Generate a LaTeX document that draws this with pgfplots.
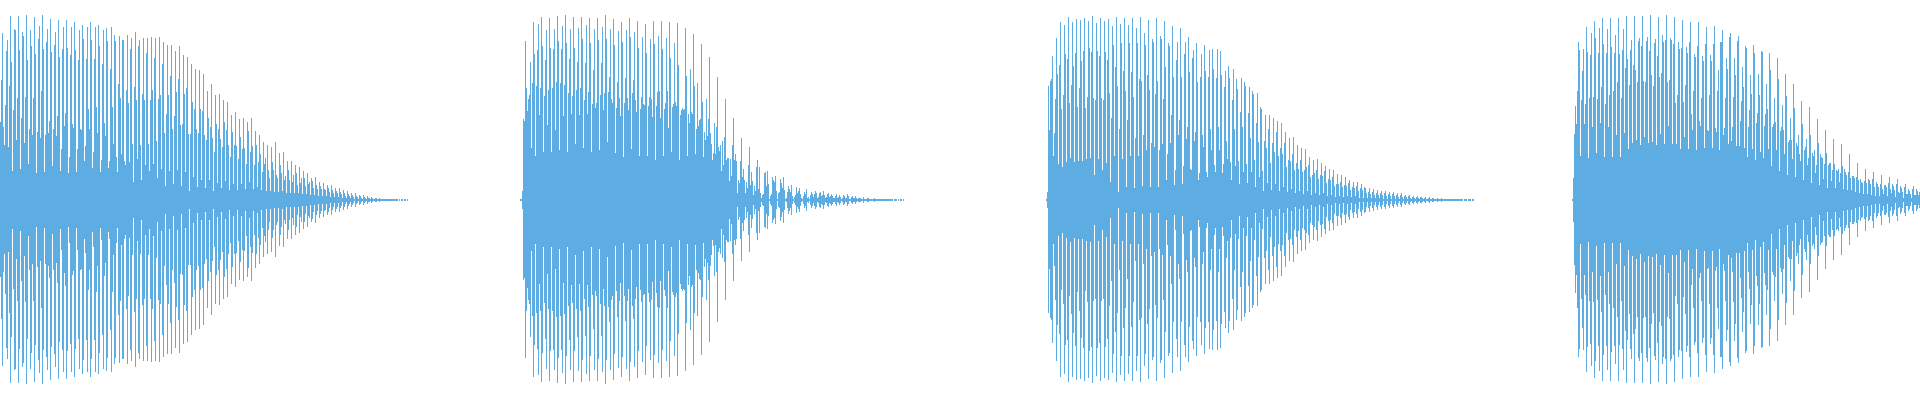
\documentclass[border=0pt]{standalone}
\usepackage{pgfplots}
\usepackage{pgfplotstable}
\pgfplotsset{compat=1.18}
\definecolor{wave}{HTML}{5DADE2}
\pgfplotstableread{
x a b c d e f g h
0 77 119 166 72 54 94 148 159
8 52 113 183 137 29 89 170 169
16 59 101 183 149 31 81 167 163
24 56 102 184 139 36 70 169 153
32 64 101 182 145 27 67 160 173
40 61 108 184 150 28 64 157 170
48 66 78 180 147 34 70 154 167
56 63 83 179 142 29 50 150 172
64 73 86 179 151 27 43 144 172
72 75 71 177 149 28 50 139 169
80 70 69 174 160 39 53 140 172
88 90 70 177 159 32 47 140 172
96 92 66 174 153 28 40 135 169
104 76 63 171 158 32 39 130 172
112 92 55 164 158 43 28 115 163
120 101 45 159 159 39 35 109 164
128 96 38 150 161 55 18 112 167
136 99 41 153 159 54 20 105 161
144 99 35 146 161 55 29 99 162
152 109 36 141 161 58 22 100 162
160 104 31 135 157 66 14 85 154
168 104 29 123 154 70 16 83 148
176 107 30 120 153 74 14 75 144
184 105 28 111 142 65 9 65 135
192 97 23 90 130 70 13 66 129
200 90 20 88 125 64 12 59 108
208 81 20 72 115 61 9 47 104
216 75 17 70 105 60 12 52 99
224 77 19 69 97 54 10 43 84
232 67 16 54 87 53 10 41 80
240 62 16 50 81 51 11 36 77
248 68 18 47 81 53 11 35 68
256 54 13 38 64 45 10 28 57
264 36 42 9 54 30 22 9 52
272 38 30 8 57 25 22 8 46
280 35 27 9 47 20 24 7 39
288 30 20 7 39 18 25 7 35
296 27 15 7 33 17 22 6 29
304 22 14 6 27 16 18 5 22
312 19 12 5 23 15 11 4 18
320 14 11 4 17 11 10 4 15
328 12 8 3 15 10 7 3 12
336 9 7 3 12 8 6 2 10
344 7 4 2 9 6 4 2 7
352 5 3 1 7 4 3 1 5
360 4 2 1 5 3 2 1 4
368 2 2 1 3 2 1 1 2
376 2 1 1 2 1 1 1 1
384 1 0.7 0.7 1 0.7 0.7 0.5 0.5
392 0.5 0.5 0.5 0.5 0.5 0.5 0 0.5
400 0 0.5 0.5 0 0.5 0.5 0 0.5
520 0.5 0.5 9 80 78 158 111 88
528 100 104 137 51 116 177 145 44
536 113 149 175 84 111 182 153 47
544 103 139 169 74 109 181 151 47
552 111 150 170 69 117 183 158 49
560 116 150 173 83 114 184 156 47
568 106 140 170 85 103 182 151 55
576 109 137 171 84 111 182 160 51
584 99 136 174 85 107 181 156 47
592 95 129 170 91 96 181 159 49
600 104 136 172 89 106 184 160 57
608 107 122 170 100 96 180 154 46
616 91 117 168 101 83 177 157 43
624 96 121 169 101 89 181 162 50
632 106 119 167 99 87 178 151 44
640 90 102 162 95 94 175 146 44
648 93 102 160 100 82 178 155 40
656 93 107 163 108 81 178 150 44
664 90 96 161 108 71 177 141 47
672 92 95 156 97 93 176 134 40
680 84 89 91 89 90 171 123 44
688 85 76 130 87 85 165 113 45
696 70 116 73 79 80 155 97 43
704 67 59 100 63 80 142 66 55
712 40 46 76 45 72 122 52 48
720 54 29 58 35 62 100 40 42
728 42 19 41 24 54 81 40 45
736 39 7 20 17 39 61 23 31
744 20 7 18 12 35 52 15 28
752 19 5 14 9 33 40 11 33
760 7 2 5 6 27 28 14 29
768 16 1 4 6 23 20 18 24
776 9 1 7 8 21 17 12 23
784 10 1 2 8 14 11 8 15
792 4 1 3 5 13 7 9 12
800 6 2 1 4 8 6 11 2
808 3 1 5 8 6 3 6 9
816 7 2 3 7 8 4 5 9
824 5 2 3 6 7 3 4 6
832 4 2 2 4 6 2 3 5
840 3 1 2 5 4 2 2 6
848 4 1 1 3 4 2 2 4
856 2 1 2 2 2 1 1 3
864 1 1 1 2 2 1 1 1
872 1 1 2 1 1 1 1 1
880 1 0.5 1 0.5 1 0.5 0.5 1
888 0.5 0.5 0.5 0.5 0.5 0 0.5 0.5
896 0.5 0 0.5 0 0.5 0.5 0 0.5
1045 0 1 8 113 69 118 120 143
1053 44 66 100 161 125 36 134 177
1061 90 33 104 174 145 38 140 182
1069 96 42 114 177 133 38 146 180
1077 92 39 111 179 138 39 148 181
1085 91 41 102 178 151 42 147 183
1093 101 25 99 176 148 41 143 181
1101 101 30 99 178 147 37 139 180
1109 106 18 81 173 154 44 132 182
1117 113 8 70 175 156 41 128 181
1125 108 13 79 174 156 44 127 181
1133 102 12 61 171 156 44 120 182
1141 118 14 64 166 154 49 124 179
1149 109 13 56 160 157 52 105 181
1157 118 13 49 163 160 55 100 178
1165 132 20 45 156 153 56 84 173
1173 122 15 30 139 157 64 79 171
1181 122 16 34 145 157 60 72 162
1189 127 31 30 141 149 58 67 156
1197 117 20 27 122 145 64 52 154
1205 128 28 23 122 149 70 49 150
1213 130 35 28 121 150 72 49 148
1221 124 27 36 112 128 58 41 133
1229 121 38 20 99 130 70 34 120
1237 110 39 16 87 121 72 28 117
1245 113 36 17 86 112 61 28 108
1253 105 40 13 76 106 57 23 92
1261 90 29 9 58 84 51 17 70
1269 84 37 10 56 81 47 16 67
1277 78 44 9 51 76 45 13 56
1285 67 33 8 40 61 39 11 45
1293 62 30 7 37 54 31 9 40
1301 51 28 6 30 50 33 9 35
1309 43 23 5 25 40 27 7 30
1317 41 21 5 25 37 24 7 29
1325 34 17 4 21 31 20 5 23
1333 30 14 3 16 26 16 4 18
1341 25 13 3 15 23 14 4 17
1349 20 10 3 13 18 12 4 14
1357 18 9 2 12 16 10 2 13
1365 12 7 2 8 12 6 2 8
1373 11 5 2 7 10 5 2 7
1381 9 5 1 7 9 4 1 6
1389 8 4 1 6 8 4 1 5
1397 7 3 1 5 7 3 1 4
1405 5 3 1 4 5 2 1 3
1413 4 2 1 3 4 2 1 3
1421 3 2 1 2 3 1 1 2
1429 3 1 0.7 2 2 1 0.7 1
1437 2 1 0.7 1 2 1 0.5 1
1445 1 0.7 0.5 1 1 0.5 0.5 1
1453 0.7 0.5 0.5 0.5 0.7 0.5 0.5 0.5
1461 0.5 0.5 0 0.5 0.5 0.5 0 0.5
1469 0.5 0.5 0 0.5 0.5 0 0 0
1572 1 22 65 93 75 108 157 149
1580 44 99 128 150 75 95 172 147
1588 42 101 144 166 72 102 178 161
1596 46 100 146 171 76 112 181 155
1604 43 95 146 170 72 104 181 152
1612 43 108 146 164 64 117 181 145
1620 43 101 149 170 66 131 183 140
1628 50 114 149 159 56 134 183 129
1636 59 117 158 161 54 153 183 118
1644 62 117 158 162 56 148 184 124
1652 57 113 156 160 54 143 182 122
1660 65 126 164 157 55 159 184 117
1668 73 119 161 159 55 155 182 96
1676 55 104 157 150 50 151 179 97
1684 62 114 152 146 50 157 177 85
1692 69 108 145 142 49 153 177 78
1700 73 101 143 138 51 155 172 69
1708 68 104 144 138 51 155 173 71
1716 67 108 129 49 157 157 169 64
1724 71 101 141 130 55 162 166 58
1732 72 102 141 124 53 158 163 53
1740 78 98 132 112 51 153 151 43
1748 72 89 124 105 50 154 146 40
1756 76 86 125 104 47 148 147 42
1764 73 85 115 90 50 146 129 34
1772 72 75 101 77 49 141 120 29
1780 68 72 94 69 45 125 103 25
1788 57 59 81 59 41 115 91 23
1796 56 53 64 45 39 98 75 20
1804 49 52 60 35 42 92 64 17
1812 46 44 49 27 35 80 56 15
1820 45 43 42 21 36 69 46 12
1828 35 37 37 19 30 60 36 12
1836 30 29 31 18 27 55 34 11
1844 31 28 25 10 28 45 22 10
1852 24 24 22 8 23 37 20 7
1860 21 18 17 6 19 31 17 6
1868 21 20 16 5 21 28 13 4
1876 18 16 13 4 16 25 11 6
1884 15 15 13 4 17 23 11 7
1892 16 14 10 3 16 21 8 7
1900 14 12 8 2 13 16 6 6
1908 11 9 6 2 11 14 5 5
1916 11 9 5 8 0 0 0 0
}\wavedata
\begin{document}
\begin{tikzpicture}
\useasboundingbox (0,0) rectangle (1920pt,400pt);
\begin{axis}[
  at={(0,0)},anchor=south west,
  scale only axis,width=1920pt,height=400pt,
  xmin=0,xmax=1920,ymin=-200.5,ymax=199.5,
  hide axis,clip=true,
  w/.style={ycomb,draw=wave,line width=1.2pt,mark=none,forget plot},
]
\addplot[w] table[x expr=\thisrow{x}+0.5,y=a]{\wavedata};
\addplot[w] table[x expr=\thisrow{x}+0.5,y expr=-\thisrow{a}]{\wavedata};
\addplot[w] table[x expr=\thisrow{x}+1.5,y=b]{\wavedata};
\addplot[w] table[x expr=\thisrow{x}+1.5,y expr=-\thisrow{b}]{\wavedata};
\addplot[w] table[x expr=\thisrow{x}+2.5,y=c]{\wavedata};
\addplot[w] table[x expr=\thisrow{x}+2.5,y expr=-\thisrow{c}]{\wavedata};
\addplot[w] table[x expr=\thisrow{x}+3.5,y=d]{\wavedata};
\addplot[w] table[x expr=\thisrow{x}+3.5,y expr=-\thisrow{d}]{\wavedata};
\addplot[w] table[x expr=\thisrow{x}+4.5,y=e]{\wavedata};
\addplot[w] table[x expr=\thisrow{x}+4.5,y expr=-\thisrow{e}]{\wavedata};
\addplot[w] table[x expr=\thisrow{x}+5.5,y=f]{\wavedata};
\addplot[w] table[x expr=\thisrow{x}+5.5,y expr=-\thisrow{f}]{\wavedata};
\addplot[w] table[x expr=\thisrow{x}+6.5,y=g]{\wavedata};
\addplot[w] table[x expr=\thisrow{x}+6.5,y expr=-\thisrow{g}]{\wavedata};
\addplot[w] table[x expr=\thisrow{x}+7.5,y=h]{\wavedata};
\addplot[w] table[x expr=\thisrow{x}+7.5,y expr=-\thisrow{h}]{\wavedata};
\end{axis}
\end{tikzpicture}
\end{document}
